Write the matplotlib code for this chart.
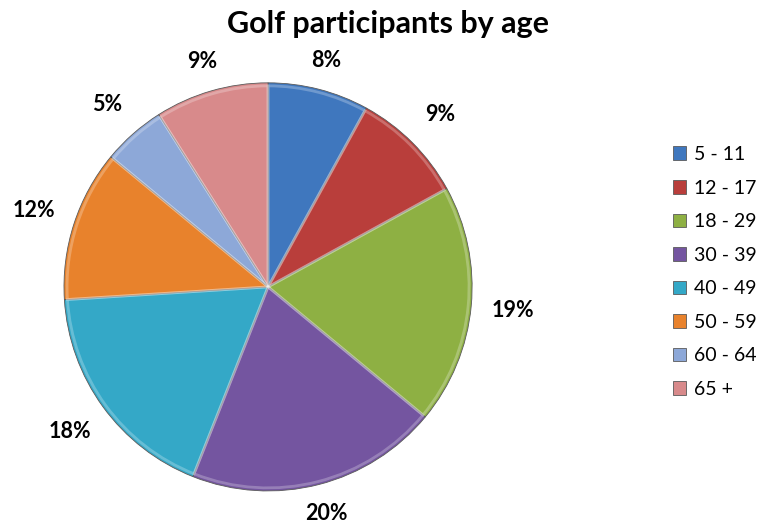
import numpy as np
import matplotlib.pyplot as plt

age_groups = ["5 - 11", "12 - 17", "18 - 29", "30 - 39", "40 - 49", "50 - 59", "60 - 64", "65 +"]
shares = [8, 9, 19, 20, 18, 12, 5, 9]
colors = ["#3F77BE", "#B93E3B", "#8EB043", "#7455A0", "#34A8C7", "#E8822C", "#8DA8D8", "#D88A8B"]

plt.rcParams["font.family"] = ["Lato", "DejaVu Sans"]

fig = plt.figure(figsize=(7.6, 5.24), dpi=100)
ax = fig.add_axes([0.0842, 0.063, 0.537, 0.779])

wedges, texts, autotexts = ax.pie(
    shares, colors=colors, startangle=90, counterclock=False,
    autopct="%1.0f%%", pctdistance=1.18,
    wedgeprops=dict(edgecolor="#5a5a5a", linewidth=0.6),
    textprops=dict(fontsize=15.5, fontweight="bold", color="black"),
)
# light rim on each slice for a soft bevel look
ax.pie(shares, startangle=90, counterclock=False, radius=0.985,
       wedgeprops=dict(facecolor="none", edgecolor="white", linewidth=2, alpha=0.25))
ax.set_xlim(-1, 1)
ax.set_ylim(-1, 1)
ax.set_aspect("equal")

# place labels "outside end": box edge at a fixed gap from the rim
gap = 0.07
half_w, half_h = 0.13, 0.045
for w, t in zip(wedges, autotexts):
    ang = np.deg2rad((w.theta1 + w.theta2) / 2)
    ux, uy = np.cos(ang), np.sin(ang)
    d = 1 + gap + half_w * abs(ux) + half_h * abs(uy)
    t.set_position((d * ux, d * uy))
    t.set_ha("center")
    t.set_va("center")

fig.text(0.51, 0.955, "Golf participants by age", ha="center", va="center",
         fontsize=22, fontweight="bold")

fig.legend(wedges, age_groups, loc="center left", bbox_to_anchor=(0.862, 0.481),
           frameon=False, fontsize=14, handlelength=0.7, handleheight=0.7,
           labelspacing=0.85, handletextpad=0.4)

fig.savefig("out.png", dpi=100)
